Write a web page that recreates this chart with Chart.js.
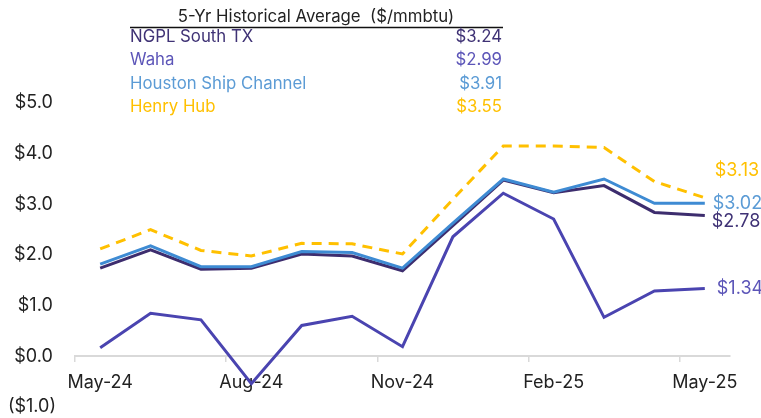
<!DOCTYPE html>
<html>
<head>
<meta charset="utf-8">
<script src="https://cdn.jsdelivr.net/npm/chart.js@4/dist/chart.umd.min.js"></script>
<style>
  html, body { margin: 0; padding: 0; background: #ffffff; }
  #wrap { position: relative; width: 761px; height: 418px; }
</style>
</head>
<body>
<div id="wrap"><canvas id="c" width="761" height="418"></canvas></div>
<script>
const months = ['May-24','Jun-24','Jul-24','Aug-24','Sep-24','Oct-24','Nov-24','Dec-24','Jan-25','Feb-25','Mar-25','Apr-25','May-25'];
const ngplSouthTX = [1.74, 2.10, 1.72, 1.74, 2.02, 1.98, 1.69, 2.58, 3.48, 3.23, 3.37, 2.84, 2.78];
const waha        = [0.17, 0.85, 0.72, -0.54, 0.61, 0.79, 0.19, 2.36, 3.22, 2.71, 0.77, 1.29, 1.34];
const houstonShip = [1.82, 2.18, 1.77, 1.77, 2.07, 2.05, 1.74, 2.63, 3.50, 3.24, 3.50, 3.02, 3.02];
const henryHub    = [2.12, 2.50, 2.09, 1.98, 2.23, 2.22, 2.02, 3.10, 4.15, 4.15, 4.12, 3.45, 3.13];

const seriesNames = ['NGPL South TX', 'Waha', 'Houston Ship Channel', 'Henry Hub'];
const historicalAvg = [3.24, 2.99, 3.91, 3.55];
const tableTitle = '5-Yr Historical Average  ($/mmbtu)';

const FONT = 'Inter, "DejaVu Sans", sans-serif';
const COL = {
  ngpl: '#3D2D6E', ngplText: '#3F3275',
  waha: '#4A44B0', wahaText: '#5C55B8',
  hsc: '#3E8BD3', hscText: '#5B9BD5',
  hh: '#FFC000', hhText: '#FFC000'
};
const money = v => '$' + v.toFixed(2);

const tablePlugin = {
  id: 'tablePlugin',
  afterDraw(chart) {
    const ctx = chart.ctx;
    ctx.save();
    ctx.font = '16.8px ' + FONT;
    ctx.fillStyle = '#222';
    ctx.textAlign = 'center';
    ctx.textBaseline = 'middle';
    ctx.fillText(tableTitle, 316, 17);
    ctx.strokeStyle = '#111';
    ctx.lineWidth = 1.5;
    ctx.beginPath(); ctx.moveTo(130, 27.5); ctx.lineTo(503, 27.5); ctx.stroke();
    const rowY = [37, 60, 84, 107];
    const cols = [COL.ngplText, COL.wahaText, COL.hscText, COL.hhText];
    seriesNames.forEach((n, i) => {
      ctx.fillStyle = cols[i];
      ctx.textAlign = 'left';
      ctx.fillText(n, 130, rowY[i]);
      ctx.textAlign = 'right';
      ctx.fillText(money(historicalAvg[i]), 502, rowY[i]);
    });
    ctx.restore();
  }
};

const endLabelPlugin = {
  id: 'endLabels',
  afterDatasetsDraw(chart) {
    const ctx = chart.ctx;
    ctx.save();
    ctx.font = '18px ' + FONT;
    ctx.textBaseline = 'middle';
    ctx.textAlign = 'left';
    chart.data.datasets.forEach((ds, i) => {
      const meta = chart.getDatasetMeta(i);
      const last = meta.data[meta.data.length - 1];
      const off = ds.endOffset;
      ctx.fillStyle = ds.labelColor;
      ctx.fillText(money(ds.data[ds.data.length - 1]), last.x + off[0], last.y + off[1]);
    });
    ctx.restore();
  }
};

new Chart(document.getElementById('c'), {
  type: 'line',
  data: {
    labels: months,
    datasets: [
      { label: seriesNames[2], data: houstonShip, borderColor: COL.hsc, labelColor: COL.hscText, endOffset: [8, 0] },
      { label: seriesNames[0], data: ngplSouthTX, borderColor: COL.ngpl, labelColor: COL.ngplText, endOffset: [7, 6] },
      { label: seriesNames[3], data: henryHub, borderColor: COL.hh, labelColor: COL.hhText, borderDash: [10, 7], endOffset: [10, -27] },
      { label: seriesNames[1], data: waha, borderColor: COL.waha, labelColor: COL.wahaText, endOffset: [12, 0] }
    ].map(d => Object.assign({ borderWidth: 3, pointRadius: 0, pointHoverRadius: 0, tension: 0, fill: false, borderJoinStyle: 'miter' }, d))
  },
  options: {
    responsive: false,
    devicePixelRatio: 1,
    animation: false,
    layout: { padding: { left: 0, right: 31, top: 103, bottom: 11 } },
    plugins: { legend: { display: false }, title: { display: false }, tooltip: { enabled: false } },
    scales: {
      x: {
        type: 'category',
        position: { y: 0 },
        offset: true,
        grid: {
          offset: true,
          drawOnChartArea: false,
          drawTicks: true,
          tickLength: 5,
          lineWidth: 1.5,
          color: c => (c.index !== undefined && c.index % 3 === 0) ? '#d9d9d9' : 'rgba(0,0,0,0)'
        },
        border: { display: true, color: '#d9d9d9', width: 2 },
        ticks: {
          autoSkip: false,
          maxRotation: 0,
          padding: 10,
          color: '#222',
          font: { family: FONT, size: 18 },
          callback: (v, i) => (i % 3 === 0 ? months[i] : '')
        }
      },
      y: {
        min: -1,
        max: 5,
        position: 'left',
        grid: { display: false, drawTicks: true, tickLength: 19 },
        border: { display: false },
        afterFit: s => { s.width = 75; },
        ticks: {
          stepSize: 1,
          padding: 0,
          color: '#222',
          font: { family: FONT, size: 18 },
          callback: v => v < 0 ? '($' + Math.abs(v).toFixed(1) + ')' : '$' + v.toFixed(1) + '\u2009'
        }
      }
    }
  },
  plugins: [tablePlugin, endLabelPlugin]
});
</script>
</body>
</html>
